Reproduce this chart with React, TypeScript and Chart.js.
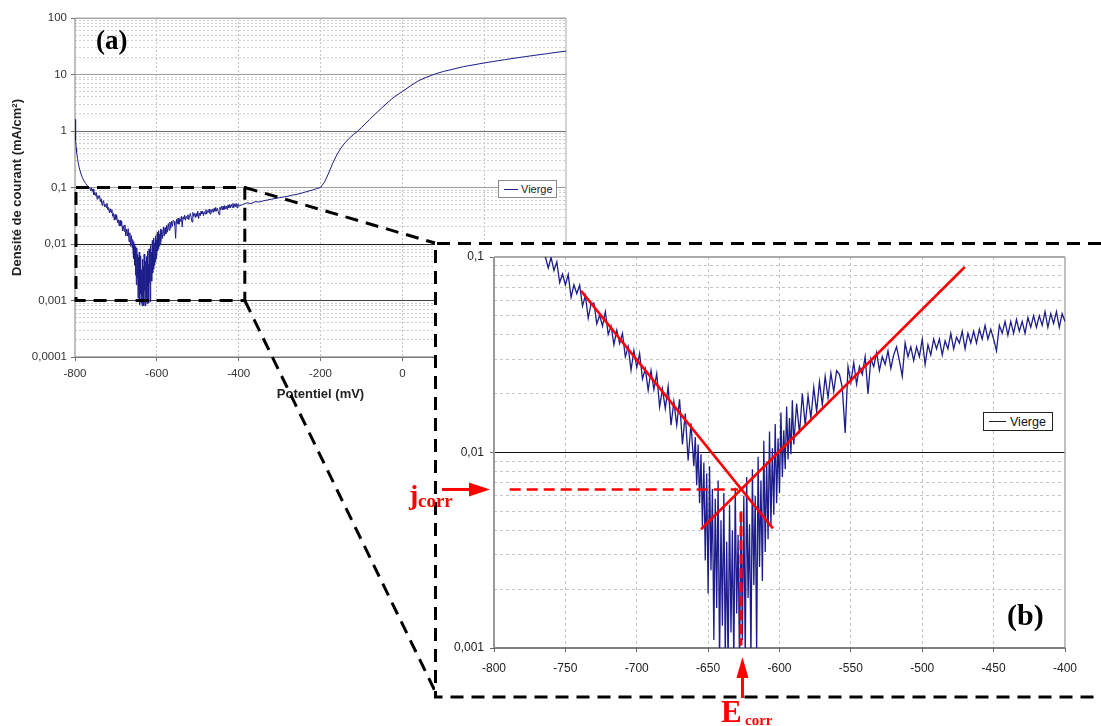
import React, { useEffect, useRef } from 'react';
import { Chart, registerables } from 'chart.js';

Chart.register(...registerables);
Chart.defaults.font.family = "'Liberation Sans', Arial, sans-serif";

// ---------- data: potential (mV) / current density (mA/cm²) ----------
const potentialStart = [-800, -799, -798, -797, -796, -794, -792, -790, -786, -782, -778, -774, -770, -766];
const currentStart = [1.6, 1.0, 0.7, 0.5, 0.42, 0.33, 0.27, 0.23, 0.18, 0.15, 0.13, 0.118, 0.108, 0.102];

const potentialCathodic = [
  -764, -762, -760, -758, -756, -754, -752, -750, -748, -746,
  -744, -742, -740, -738, -736, -734, -732, -730, -728, -726,
  -724, -722, -720, -718, -716, -714, -712, -710, -708, -706,
  -704, -702, -700, -698, -696, -694, -692, -690, -688, -686,
  -684, -682, -680, -678, -676, -674, -672, -670, -668, -666,
  -664, -662,
];
const currentCathodic = [
  0.100, 0.0879, 0.0995, 0.0853, 0.0944, 0.0740, 0.0818, 0.0719, 0.0813, 0.0622,
  0.0721, 0.0649, 0.0718, 0.0561, 0.0635, 0.0486, 0.0577, 0.0582, 0.0455, 0.0504,
  0.0443, 0.0525, 0.0402, 0.0444, 0.0356, 0.0422, 0.0361, 0.0406, 0.0309, 0.0348,
  0.0264, 0.0333, 0.0272, 0.0321, 0.0238, 0.0268, 0.0208, 0.0263, 0.0210, 0.0253,
  0.0171, 0.0211, 0.0168, 0.0218, 0.0138, 0.0182, 0.0138, 0.0187, 0.0110, 0.0158,
  0.0091, 0.0141,
];

const potentialMinimum = [
  -660, -659, -658, -657, -656, -655, -654, -653, -652, -651,
  -650, -649, -648, -647, -646, -645, -644, -643, -642, -641,
  -640, -639, -638, -637, -636, -635, -634, -633, -632, -631,
  -630, -629, -628, -627, -626, -625, -624, -623, -622, -621,
  -620, -619, -618, -617, -616, -615, -614, -613, -612, -611,
  -610, -609, -608, -607, -606, -605, -604, -603, -602, -601,
  -600, -599, -598, -597, -596, -595, -594, -593, -592, -591,
  -590,
];
const currentMinimum = [
  0.0085, 0.0120, 0.0068, 0.0110, 0.0055, 0.0098, 0.0042, 0.0089, 0.0028, 0.0078,
  0.0019, 0.0085, 0.0025, 0.0065, 0.0011, 0.0058, 0.0016, 0.0072, 0.00085, 0.0045,
  0.0013, 0.0062, 0.0009, 0.0035, 0.0008, 0.0054, 0.0012, 0.0040, 0.00082, 0.0066,
  0.0015, 0.0038, 0.0008, 0.0050, 0.0011, 0.0060, 0.00088, 0.0075, 0.0018, 0.0043,
  0.0009, 0.0082, 0.0021, 0.0060, 0.00095, 0.0095, 0.0026, 0.0072, 0.0022, 0.0115,
  0.0031, 0.0090, 0.0036, 0.0128, 0.0042, 0.0105, 0.0048, 0.0140, 0.0055, 0.0118,
  0.0062, 0.0160, 0.0075, 0.0130, 0.0082, 0.0172, 0.0092, 0.0150, 0.0098, 0.0185,
  0.0110,
];

const potentialRise = [-588, -586, -584, -582, -580, -578, -576, -574, -572, -570, -568, -566, -564, -562, -560];
const currentRise = [0.0178, 0.0125, 0.0200, 0.0138, 0.0195, 0.0150, 0.0215, 0.0162, 0.0230, 0.0175, 0.0245, 0.0190, 0.0255, 0.0205, 0.0262];

const potentialAnodic = [
  -558, -556, -554, -552, -550, -548, -546, -544, -542, -540,
  -538, -536, -534, -532, -530, -528, -526, -524, -522, -520,
  -518, -516, -514, -512, -510, -508, -506, -504, -502, -500,
  -498, -496, -494, -492, -490, -488, -486, -484, -482, -480,
  -478, -476, -474, -472, -470, -468, -466, -464, -462, -460,
  -458, -456, -454, -452, -450, -448, -446, -444, -442, -440,
  -438, -436, -434, -432, -430, -428, -426, -424, -422, -420,
  -418, -416, -414, -412, -410, -408, -406, -404, -402, -400,
];
const currentAnodic = [
  0.0251, 0.0214, 0.0126, 0.0275, 0.0229, 0.0288, 0.0224, 0.0275, 0.0251, 0.0309,
  0.020, 0.0302, 0.0275, 0.0324, 0.0263, 0.0309, 0.0282, 0.0331, 0.0269, 0.0316,
  0.0347, 0.0295, 0.0245, 0.0363, 0.0309, 0.0347, 0.0295, 0.0347, 0.0309, 0.038,
  0.0282, 0.0355, 0.0316, 0.038, 0.0339, 0.038, 0.0316, 0.0372, 0.0339, 0.0407,
  0.0339, 0.0389, 0.0363, 0.0417, 0.0339, 0.0407, 0.0363, 0.0417, 0.0363, 0.0427,
  0.038, 0.0447, 0.038, 0.0427, 0.038, 0.0331, 0.0447, 0.0407, 0.0468, 0.0398,
  0.0468, 0.0407, 0.0479, 0.0417, 0.0468, 0.0407, 0.049, 0.0437, 0.0501, 0.0437,
  0.0501, 0.0447, 0.0525, 0.0437, 0.0513, 0.0457, 0.0525, 0.0437, 0.0513, 0.0468,
];

const potentialHigh = [
  -390, -380, -370, -360, -350, -340, -330, -320, -310, -300,
  -290, -280, -270, -260, -250, -240, -230, -220, -210, -200,
  -190, -180, -170, -160, -150, -140, -130, -120, -110, -100,
  -80, -60, -40, -20, 0, 20, 40, 60, 80, 100,
  150, 200, 250, 300, 350, 400,
];
const currentHigh = [
  0.050, 0.0535, 0.052, 0.056, 0.0555, 0.058, 0.060, 0.062, 0.064, 0.066,
  0.068, 0.070, 0.073, 0.075, 0.078, 0.082, 0.086, 0.090, 0.095, 0.100,
  0.125, 0.18, 0.27, 0.38, 0.50, 0.62, 0.74, 0.86, 0.98, 1.15,
  1.6, 2.2, 3.0, 4.0, 5.0, 6.3, 7.8, 9.0, 10.2, 11.3,
  13.8, 16, 18.3, 20.7, 23.2, 26,
];

const potential = [
  ...potentialStart, ...potentialCathodic, ...potentialMinimum, ...potentialRise, ...potentialAnodic, ...potentialHigh,
];
const current = [
  ...currentStart, ...currentCathodic, ...currentMinimum, ...currentRise, ...currentAnodic, ...currentHigh,
];

// Tafel construction (panel b)
const tafelCathodicX = [-739, -604.6];
const tafelCathodicY = [0.0671, 0.00409];
const tafelAnodicX = [-655, -470.2];
const tafelAnodicY = [0.00405, 0.0889];
const jcorr = 0.00647;
const ecorr = -627;
const jcorrGuideX = [-789, -629];
const ecorrGuideY = [0.00495, 0.00103];

// zoom window drawn on panel a
const zoomWindow = { xMin: -800, xMax: -385, yMin: 0.001, yMax: 0.1 };

// axes
const decadesA = [0.0001, 0.001, 0.01, 0.1, 1, 10, 100];
const decadeLabelsA = ['0,0001', '0,001', '0,01', '0,1', '1', '10', '100'];
const decadeLineColorsA = ['#808080', '#404040', '#202020', '#a0a0a0', '#707070', '#a0a0a0', '#a0a0a0'];
const xTicksA = [-800, -600, -400, -200, 0, 200, 400];

const decadesB = [0.001, 0.01, 0.1];
const decadeLabelsB = ['0,001', '0,01', '0,1'];
const decadeLineColorsB = ['rgba(0,0,0,0)', '#111111', 'rgba(0,0,0,0)'];
const xTicksB = [-800, -750, -700, -650, -600, -550, -500, -450, -400];

const NAVY = '#1c1c8a';
const RED = '#ff0000';
const insetBox = { left: 435, top: 243, bottom: 697, right: 1101 };

// ---------- helpers ----------
const decadeIndex = (decades: number[], v: number) =>
  decades.findIndex((d) => Math.abs(d - v) <= d * 1e-6);

const logTicks = (decades: number[]) => {
  const out: any[] = [];
  decades.forEach((d, i) => {
    out.push({ value: d, major: true });
    if (i < decades.length - 1) {
      for (let m = 2; m <= 9; m++) out.push({ value: +(d * m).toPrecision(6), major: false });
    }
  });
  return out;
};

const toPoints = (xs: number[], ys: number[]) => xs.map((x, i) => ({ x, y: ys[i] }));

const makeFramePlugin = (cfg: any) => ({
  id: 'frame',
  beforeDatasetsDraw(chart: any) {
    const { ctx, chartArea } = chart;
    const { left, right, top, bottom } = chartArea;
    const seg = (x1: number, y1: number, x2: number, y2: number, s: any) => {
      ctx.strokeStyle = s.color;
      ctx.lineWidth = s.width;
      ctx.beginPath();
      ctx.moveTo(x1, y1);
      ctx.lineTo(x2, y2);
      ctx.stroke();
    };
    ctx.save();
    ctx.setLineDash([]);
    seg(left, top, right, top, cfg.top);
    seg(right, top, right, bottom, cfg.right);
    seg(left, bottom, right, bottom, cfg.bottom);
    seg(left, top, left, bottom, cfg.left);
    ctx.restore();
  },
});

const zoomBoxPlugin = {
  id: 'zoomBox',
  afterDraw(chart: any) {
    const { ctx } = chart;
    const xs = chart.scales.x;
    const ys = chart.scales.y;
    const x1 = xs.getPixelForValue(zoomWindow.xMin);
    const x2 = xs.getPixelForValue(zoomWindow.xMax);
    const y1 = ys.getPixelForValue(zoomWindow.yMax);
    const y2 = ys.getPixelForValue(zoomWindow.yMin);
    ctx.save();
    ctx.strokeStyle = '#000';
    ctx.lineWidth = 3;
    ctx.setLineDash([13, 8]);
    ctx.beginPath();
    ctx.rect(x1 + 1, y1, x2 - x1 - 1, y2 - y1);
    ctx.stroke();
    ctx.beginPath();
    ctx.moveTo(x2, y1);
    ctx.lineTo(insetBox.left, insetBox.top);
    ctx.stroke();
    ctx.beginPath();
    ctx.moveTo(x2, y2);
    ctx.lineTo(insetBox.left, insetBox.bottom - 6);
    ctx.stroke();
    ctx.restore();
  },
};

const annotationPlugin = {
  id: 'corrAnnotations',
  afterDraw(chart: any) {
    const { ctx, chartArea } = chart;
    const xs = chart.scales.x;
    const ys = chart.scales.y;
    ctx.save();
    // inset frame (dashed)
    ctx.strokeStyle = '#000';
    ctx.lineWidth = 3;
    ctx.setLineDash([13, 8]);
    ctx.beginPath();
    ctx.moveTo(insetBox.right, insetBox.top + 0.5);
    ctx.lineTo(insetBox.left + 0.5, insetBox.top + 0.5);
    ctx.lineTo(insetBox.left + 0.5, insetBox.bottom);
    ctx.lineTo(insetBox.right, insetBox.bottom);
    ctx.stroke();
    // jcorr arrow
    ctx.setLineDash([]);
    ctx.strokeStyle = RED;
    ctx.fillStyle = RED;
    ctx.lineWidth = 3;
    const jy = ys.getPixelForValue(jcorr);
    const tipX = chartArea.left - 4;
    ctx.beginPath();
    ctx.moveTo(chartArea.left - 52, jy);
    ctx.lineTo(tipX - 16, jy);
    ctx.stroke();
    ctx.beginPath();
    ctx.moveTo(tipX - 21, jy - 7);
    ctx.lineTo(tipX, jy);
    ctx.lineTo(tipX - 21, jy + 7);
    ctx.closePath();
    ctx.fill();
    // Ecorr arrow
    const ex = xs.getPixelForValue(ecorr) + 1.5;
    const tipY = chartArea.bottom + 9;
    ctx.beginPath();
    ctx.moveTo(ex, insetBox.bottom + 1);
    ctx.lineTo(ex, tipY + 16);
    ctx.stroke();
    ctx.beginPath();
    ctx.moveTo(ex - 6, tipY + 21);
    ctx.lineTo(ex, tipY);
    ctx.lineTo(ex + 6, tipY + 21);
    ctx.closePath();
    ctx.fill();
    ctx.restore();
  },
};

function buildChartA(canvas: HTMLCanvasElement) {
  return new Chart(canvas, {
    type: 'line',
    data: {
      datasets: [
        {
          label: 'Vierge',
          data: toPoints(potential, current),
          borderColor: NAVY,
          borderWidth: 1,
          pointRadius: 0,
          tension: 0,
          fill: false,
        },
      ],
    },
    options: {
      animation: false,
      responsive: false,
      events: [],
      layout: { padding: { left: 0, top: 18, right: 535, bottom: 319 } },
      plugins: { legend: { display: false }, tooltip: { enabled: false } },
      scales: {
        x: {
          type: 'linear',
          min: -800,
          max: 400,
          afterBuildTicks: (s: any) => {
            s.ticks = xTicksA.map((v) => ({ value: v }));
          },
          afterFit: (s: any) => {
            s.height = 50;
          },
          grid: {
            color: (c: any) => (c.tick && (c.tick.value === -800 || c.tick.value === 400) ? 'rgba(0,0,0,0)' : '#c4c4c4'),
            lineWidth: 1,
            drawTicks: true,
            tickLength: 4,
            tickColor: '#707070',
            tickBorderDash: [],
          },
          border: { display: false, dash: [2, 2] },
          ticks: {
            color: '#333',
            font: { size: 11.5 },
            padding: 6,
            maxRotation: 0,
            autoSkip: false,
            callback: (v: any) => String(v),
          },
          title: {
            display: true,
            text: 'Potentiel (mV)',
            color: '#222',
            font: { size: 13, weight: 'bold' },
            padding: { top: 0, bottom: 5 },
          },
        },
        y: {
          type: 'logarithmic',
          min: 0.0001,
          max: 100,
          afterBuildTicks: (s: any) => {
            s.ticks = logTicks(decadesA);
          },
          afterFit: (s: any) => {
            s.width = 75;
          },
          grid: {
            color: (c: any) => {
              if (!c.tick) return '#c8c8c8';
              const i = decadeIndex(decadesA, c.tick.value);
              return i >= 0 ? decadeLineColorsA[i] : '#cfcfcf';
            },
            lineWidth: 1,
            drawTicks: true,
            tickLength: 4,
            tickColor: (c: any) => (c.tick && decadeIndex(decadesA, c.tick.value) >= 0 ? '#707070' : 'rgba(0,0,0,0)'),
            tickBorderDash: [],
          },
          border: {
            display: false,
            dash: (c: any) => (c.tick && decadeIndex(decadesA, c.tick.value) >= 0 ? [] : [2, 2]),
          },
          ticks: {
            color: '#333',
            font: { size: 11.5 },
            padding: 4,
            autoSkip: false,
            callback: (v: any) => {
              const i = decadeIndex(decadesA, Number(v));
              return i >= 0 ? decadeLabelsA[i] : '';
            },
          },
          title: {
            display: true,
            text: 'Densité de courant (mA/cm²)',
            color: '#222',
            font: { size: 13, weight: 'bold' },
            padding: { top: 10, bottom: 0 },
          },
        },
      },
    } as any,
    plugins: [
      makeFramePlugin({
        top: { color: '#a8a8a8', width: 1 },
        right: { color: '#a8a8a8', width: 1 },
        bottom: { color: '#707070', width: 1 },
        left: { color: '#808080', width: 1 },
      }),
      zoomBoxPlugin,
    ],
  });
}

function buildChartB(canvas: HTMLCanvasElement) {
  return new Chart(canvas, {
    type: 'line',
    data: {
      datasets: [
        {
          label: 'cathodic',
          data: toPoints(tafelCathodicX, tafelCathodicY),
          borderColor: RED,
          borderWidth: 2.5,
          pointRadius: 0,
          order: 1,
        },
        {
          label: 'anodic',
          data: toPoints(tafelAnodicX, tafelAnodicY),
          borderColor: RED,
          borderWidth: 2.5,
          pointRadius: 0,
          order: 1,
        },
        {
          label: 'jcorr',
          data: toPoints(jcorrGuideX, [jcorr, jcorr]),
          borderColor: RED,
          borderWidth: 2.5,
          borderDash: [11, 6],
          pointRadius: 0,
          order: 1,
        },
        {
          label: 'Ecorr',
          data: toPoints([ecorr, ecorr], ecorrGuideY),
          borderColor: RED,
          borderWidth: 3,
          borderDash: [10, 4],
          pointRadius: 0,
          order: 1,
        },
        {
          label: 'Vierge',
          data: toPoints(potential, current),
          borderColor: NAVY,
          borderWidth: 1.3,
          pointRadius: 0,
          tension: 0,
          order: 10,
        },
      ],
    },
    options: {
      animation: false,
      responsive: false,
      events: [],
      layout: { padding: { left: 434, top: 257, right: 36, bottom: 48 } },
      plugins: { legend: { display: false }, tooltip: { enabled: false } },
      scales: {
        x: {
          type: 'linear',
          min: -800,
          max: -400,
          afterBuildTicks: (s: any) => {
            s.ticks = xTicksB.map((v) => ({ value: v }));
          },
          afterFit: (s: any) => {
            s.height = 30;
          },
          grid: {
            color: (c: any) => (c.tick && (c.tick.value === -800 || c.tick.value === -400) ? 'rgba(0,0,0,0)' : '#c4c4c4'),
            lineWidth: 1,
            drawTicks: true,
            tickLength: 4,
            tickColor: '#666',
            tickBorderDash: [],
          },
          border: { display: false, dash: [3, 3] },
          ticks: {
            color: '#222',
            font: { size: 12 },
            padding: 9,
            maxRotation: 0,
            autoSkip: false,
            callback: (v: any) => String(v),
          },
        },
        y: {
          type: 'logarithmic',
          min: 0.001,
          max: 0.1,
          afterBuildTicks: (s: any) => {
            s.ticks = logTicks(decadesB);
          },
          afterFit: (s: any) => {
            s.width = 60;
          },
          grid: {
            color: (c: any) => {
              if (!c.tick) return '#c4c4c4';
              const i = decadeIndex(decadesB, c.tick.value);
              return i >= 0 ? decadeLineColorsB[i] : '#c4c4c4';
            },
            lineWidth: 1,
            drawTicks: true,
            tickLength: 4,
            tickColor: (c: any) => (c.tick && decadeIndex(decadesB, c.tick.value) >= 0 ? '#666' : 'rgba(0,0,0,0)'),
            tickBorderDash: [],
          },
          border: {
            display: false,
            dash: (c: any) => (c.tick && decadeIndex(decadesB, c.tick.value) >= 0 ? [] : [3, 3]),
          },
          ticks: {
            color: '#222',
            font: { size: 12 },
            padding: 6,
            autoSkip: false,
            callback: (v: any) => {
              const i = decadeIndex(decadesB, Number(v));
              return i >= 0 ? decadeLabelsB[i] : '';
            },
          },
        },
      },
    } as any,
    plugins: [
      makeFramePlugin({
        top: { color: '#ababab', width: 2 },
        right: { color: '#ababab', width: 1.5 },
        bottom: { color: '#555', width: 1.5 },
        left: { color: '#9a9a9a', width: 2 },
      }),
      annotationPlugin,
    ],
  });
}

const abs = (left: number, top: number, extra: any = {}) => ({
  position: 'absolute' as const,
  left,
  top,
  whiteSpace: 'nowrap' as const,
  lineHeight: 1,
  ...extra,
});

const serif = "'Liberation Serif', 'Times New Roman', serif";
const sans = "'Liberation Sans', Arial, sans-serif";

export default function App() {
  const refA = useRef<HTMLCanvasElement>(null);
  const refB = useRef<HTMLCanvasElement>(null);

  useEffect(() => {
    const a = buildChartA(refA.current as HTMLCanvasElement);
    const b = buildChartB(refB.current as HTMLCanvasElement);
    return () => {
      a.destroy();
      b.destroy();
    };
  }, []);

  return (
    <div style={{ position: 'fixed', left: 0, top: 0, width: 1101, height: 726, background: '#fff', overflow: 'hidden' }}>
      <canvas ref={refA} width={1101} height={726} style={{ position: 'absolute', left: 0, top: 0 }} />
      <div
        style={{
          position: 'absolute',
          left: insetBox.left,
          top: insetBox.top,
          width: insetBox.right - insetBox.left,
          height: insetBox.bottom - insetBox.top,
          background: '#fff',
        }}
      />
      <canvas ref={refB} width={1101} height={726} style={{ position: 'absolute', left: 0, top: 0 }} />

      {/* legend a */}
      <div
        style={abs(498, 180, {
          width: 59,
          height: 18,
          border: '1px solid #8a8a8a',
          background: '#fff',
          boxSizing: 'border-box',
        })}
      >
        <div style={abs(5, 8, { width: 14, height: 1, background: NAVY })} />
        <div style={abs(22, 3, { fontFamily: sans, fontSize: 11, color: '#222' })}>Vierge</div>
      </div>

      {/* legend b */}
      <div
        style={abs(983, 412, {
          width: 70,
          height: 19,
          border: '1px solid #222',
          background: '#fff',
          boxSizing: 'border-box',
        })}
      >
        <div style={abs(5, 8, { width: 17, height: 1, background: '#222' })} />
        <div style={abs(26, 3, { fontFamily: sans, fontSize: 12.5, color: '#111' })}>Vierge</div>
      </div>

      {/* panel labels */}
      <div style={abs(96, 27, { fontFamily: serif, fontWeight: 'bold', fontSize: 27, color: '#000' })}>(a)</div>
      <div style={abs(1007, 600, { fontFamily: serif, fontWeight: 'bold', fontSize: 30, color: '#000' })}>(b)</div>

      {/* jcorr / Ecorr */}
      <div style={abs(409, 480.5, { fontFamily: serif, fontWeight: 'bold', fontSize: 28, color: RED })}>j</div>
      <div style={abs(418, 491, { fontFamily: serif, fontWeight: 'bold', fontSize: 19, color: RED })}>corr</div>
      <div style={abs(721, 696, { fontFamily: serif, fontWeight: 'bold', fontSize: 31, color: RED })}>E</div>
      <div style={abs(745, 713, { fontFamily: serif, fontWeight: 'bold', fontSize: 15, color: RED })}>corr</div>
    </div>
  );
}
